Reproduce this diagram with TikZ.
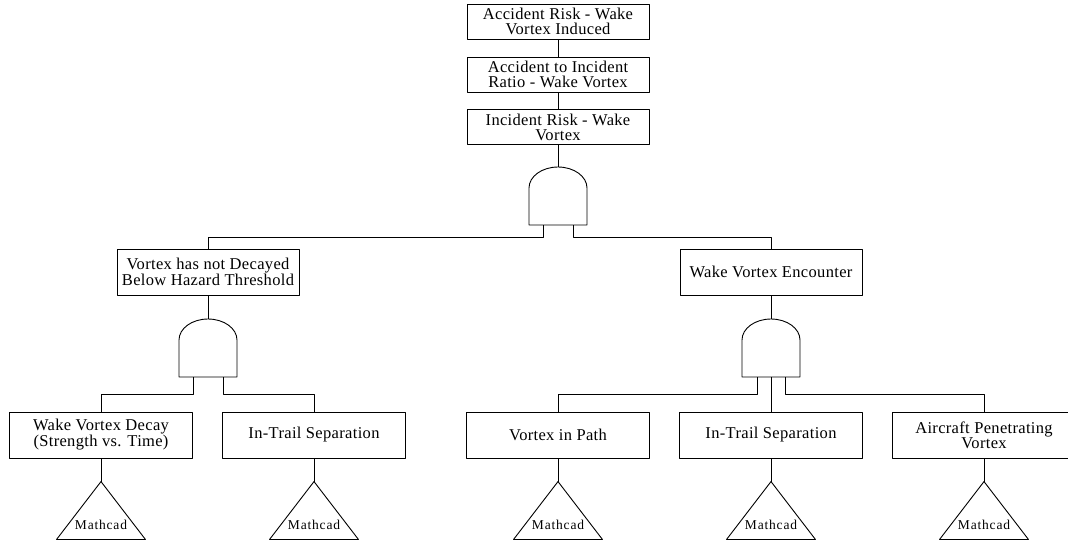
\documentclass[tikz,border=0pt]{standalone}
\usepackage{fontspec}
\setmainfont{Liberation Serif}
\newfontfamily\boxfont{Liberation Serif}[LetterSpace=2]
\newfontfamily\tagfont{Liberation Serif}[LetterSpace=6]

\begin{document}
\begin{tikzpicture}[x=1pt, y=-1pt, line width=0.9pt, line join=round,
  event/.style={draw, rectangle, inner sep=0pt, minimum width=182pt,
    minimum height=46pt, align=center,
    font=\boxfont\fontsize{16.5}{15}\selectfont},
  topevent/.style={event, minimum height=35pt},
  leafevent/.style={event, minimum width=183pt},
  andgate/.style={rectangle, inner sep=0pt, minimum width=58pt, minimum height=58pt},
  transfer/.style={rectangle, inner sep=0pt, minimum width=88pt, minimum height=57pt,
    label={[anchor=base, yshift=10pt, inner sep=0pt,
      font=\tagfont\fontsize{13.5}{13.5}\selectfont]south:Mathcad}},
]
\useasboundingbox (0,0) rectangle (1068,542);
\clip (0,0) rectangle (1068,542);

% top chain
\node[topevent] (t1) at (558,21.5) {Accident Risk - Wake\\Vortex Induced};
\node[topevent] (t2) at (558,74.5) {Accident to Incident\\Ratio - Wake Vortex};
\node[topevent] (t3) at (558,127) {Incident Risk - Wake\\Vortex};
\node[andgate] (g0) at (558,196) {};

% intermediate events
\node[event] (m1) at (208,272) {Vortex has not Decayed\\Below Hazard Threshold};
\node[event] (m2) at (771,272) {Wake Vortex Encounter};
\node[andgate] (g1) at (208,348) {};
\node[andgate] (g2) at (771,348) {};

% basic events
\node[leafevent] (b1) at (101,435) {Wake Vortex Decay\\(Strength vs. Time)};
\node[leafevent] (b2) at (314,435) {In-Trail Separation};
\node[leafevent] (b3) at (558,435) {Vortex in Path};
\node[leafevent] (b4) at (771,435) {In-Trail Separation};
\node[leafevent] (b5) at (984,435) {Aircraft Penetrating\\Vortex};

% transfer triangles
\node[transfer] (c1) at (101,510.5) {};
\node[transfer] (c2) at (314,510.5) {};
\node[transfer] (c3) at (558,510.5) {};
\node[transfer] (c4) at (771,510.5) {};
\node[transfer] (c5) at (984,510.5) {};

% gate outlines: flat base, straight sides, domed top
\foreach \g in {g0,g1,g2}{
  \begin{scope}[shift={(\g.center)}]
    \draw (29,29) -- (-29,29) -- (-29,-8)
      .. controls (-29,-19.6) and (-16,-29) .. (0,-29)
      .. controls (16,-29) and (29,-19.6) .. (29,-8) -- cycle;
  \end{scope}
}

% triangle outlines
\foreach \c in {c1,c2,c3,c4,c5}
  \draw (\c.north) -- (\c.south east) -- (\c.south west) -- cycle;

% connectors
\draw (t1) -- (t2);
\draw (t2) -- (t3);
\draw (t3) -- (g0.north);
\draw ([xshift=-15pt]g0.south) -- ++(0,12) -| (m1.north);
\draw ([xshift=15pt]g0.south) -- ++(0,12) -| (m2.north);

\draw (m1) -- (g1.north);
\draw ([xshift=-15pt]g1.south) -- ++(0,17) -| (b1.north);
\draw ([xshift=15pt]g1.south) -- ++(0,17) -| (b2.north);

\draw (m2) -- (g2.north);
\draw ([xshift=-14pt]g2.south) -- ++(0,17) -| (b3.north);
\draw (g2.south) -- (b4.north);
\draw ([xshift=14pt]g2.south) -- ++(0,17) -| (b5.north);

\foreach \i in {1,...,5}
  \draw (b\i) -- (c\i.north);
\end{tikzpicture}
\end{document}
